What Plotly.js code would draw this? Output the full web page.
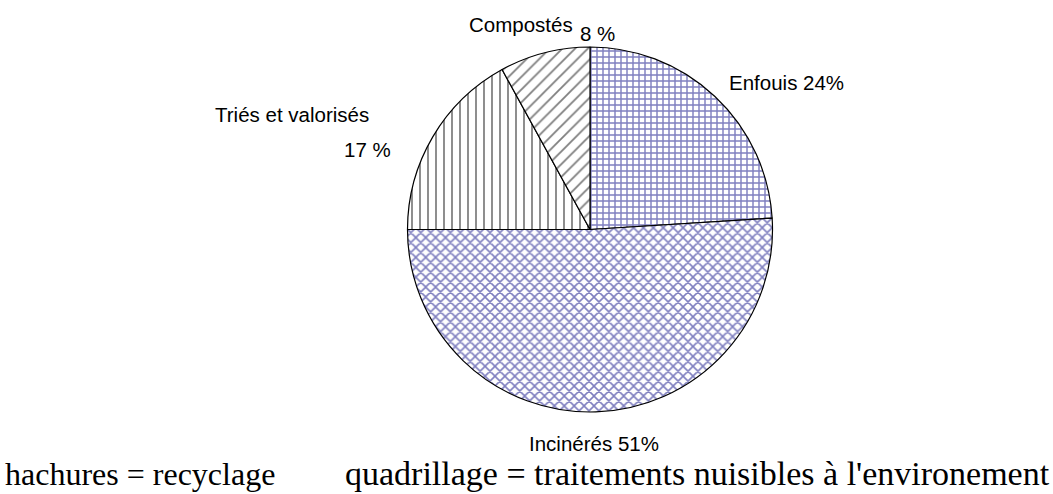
<!DOCTYPE html>
<html>
<head>
<meta charset="utf-8">
<script src="https://cdn.plot.ly/plotly-3.0.1.min.js"></script>
<style>html,body{margin:0;padding:0;background:#fff;}#chart{width:1053px;height:494px;}</style>
</head>
<body>
<div id="chart"></div>
<script>
// Data
const categories = ["Enfouis", "Incinérés", "Triés et valorisés", "Compostés"];
const values = [24, 51, 17, 8];
const labelTexts = ["Enfouis 24%", "Incinérés 51%", "Triés et valorisés", "Compostés"];
const pctTexts = ["", "", "17 %", "8 %"];
const patternShapes = ["+", "x", "|", "/"];
const patternColors = ["#000080", "#000080", "#000000", "#000000"];
const footerLeft = "hachures = recyclage";
const footerRight = "quadrillage = traitements nuisibles à l'environement";

const W = 1053, H = 494;
const cx = 590, cy = 229.5, r = 182.5;

const trace = {
  type: "pie",
  labels: categories,
  values: values,
  sort: false,
  direction: "clockwise",
  rotation: 0,
  textinfo: "none",
  hoverinfo: "skip",
  showlegend: false,
  domain: { x: [(cx - r) / W, (cx + r) / W], y: [1 - (cy + r) / H, 1 - (cy - r) / H] },
  marker: {
    colors: ["#ffffff", "#ffffff", "#ffffff", "#ffffff"],
    line: { color: "#000000", width: 1.2 },
    pattern: {
      shape: patternShapes,
      fgcolor: patternColors,
      bgcolor: "#ffffff",
      fillmode: "overlay",
      size: [6, 7, 8, 9],
      solidity: [0.42, 0.4, 0.22, 0.2]
    }
  }
};

const lblFont = { family: "Liberation Sans, Arial, sans-serif", size: 20.5, color: "#000" };
function ann(text, x, y, font) {
  return { text: text, x: x / W, y: 1 - y / H, xref: "paper", yref: "paper",
           xanchor: "center", yanchor: "middle", showarrow: false, font: font || lblFont };
}
const serifL = { family: "Liberation Serif, Times New Roman, serif", size: 32, color: "#000" };
const serifR = { family: "Liberation Serif, Times New Roman, serif", size: 34, color: "#000" };

const annotations = [
  ann(labelTexts[3], 521, 24),
  ann(pctTexts[3], 597, 33),
  ann(labelTexts[0], 786, 83),
  ann(labelTexts[2], 292, 114),
  ann(pctTexts[2], 367, 149),
  ann(labelTexts[1], 594, 443),
  { text: footerLeft, x: 3 / W, y: 0, xref: "paper", yref: "paper", xanchor: "left", yanchor: "bottom", showarrow: false, font: serifL },
  { text: footerRight, x: 343 / W, y: 0, xref: "paper", yref: "paper", xanchor: "left", yanchor: "bottom", showarrow: false, font: serifR }
];

const layout = {
  width: W, height: H,
  margin: { l: 0, r: 0, t: 0, b: 0 },
  paper_bgcolor: "#ffffff",
  plot_bgcolor: "#ffffff",
  annotations: annotations
};

Plotly.newPlot("chart", [trace], layout, { displayModeBar: false, staticPlot: true });
</script>
</body>
</html>
